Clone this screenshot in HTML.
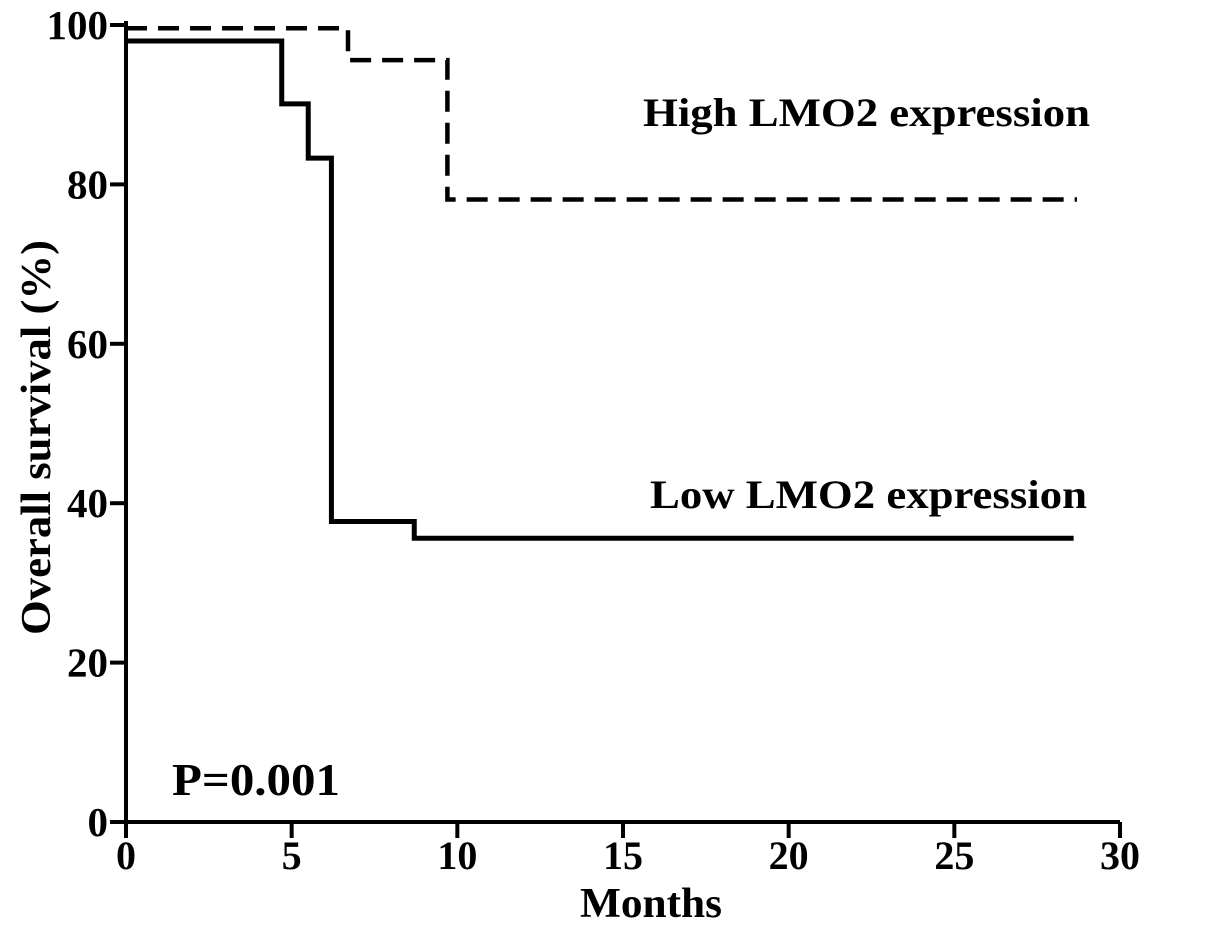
<!DOCTYPE html>
<html><head><meta charset="utf-8"><style>
html,body{margin:0;padding:0;background:#fff;}
svg{display:block;font-family:"Liberation Serif",serif;font-weight:bold;}
</style></head><body>
<svg id="chart" width="1205" height="943">
<g id="axes"></g><g id="series"></g>
<text x="643" y="126" font-size="40" textLength="447" lengthAdjust="spacingAndGlyphs">High LMO2 expression</text>
<text x="650" y="508" font-size="40" textLength="437" lengthAdjust="spacingAndGlyphs">Low LMO2 expression</text>
<text x="172" y="795" font-size="46" textLength="168" lengthAdjust="spacingAndGlyphs">P=0.001</text>
<text x="580" y="917" font-size="42" textLength="142" lengthAdjust="spacingAndGlyphs">Months</text>
<text transform="translate(50,635) rotate(-90)" font-size="42" textLength="395" lengthAdjust="spacingAndGlyphs">Overall survival (%)</text>
</svg>
<script>
const xTicks=[0,5,10,15,20,25,30];
const yTicks=[0,20,40,60,80,100];
const highTimes=[0,6.7,9.7,28.7];
const highSurv=[99.6,95.6,78.1,78.1];
const lowTimes=[0,4.7,5.5,6.2,8.7,28.6];
const lowSurv=[98,90.1,83.3,37.7,35.6,35.6];
const NS="http://www.w3.org/2000/svg";
const X=v=>126+v*(1120-126)/30;
const Y=v=>822-v*(822-25)/100;
function mk(tag,attrs,parent){const e=document.createElementNS(NS,tag);for(const k in attrs)e.setAttribute(k,attrs[k]);parent.appendChild(e);return e;}
const ax=document.getElementById('axes');
let l=mk('line',{x1:X(0),y1:Y(0),x2:X(30),y2:Y(0),stroke:'#000','stroke-width':4},ax);


l=mk('line',{x1:X(0),y1:Y(0)+2,x2:X(0),y2:Y(100)-4,stroke:'#000','stroke-width':4},ax);


xTicks.forEach(t=>{
 const tk=mk('line',{x1:X(t),y1:Y(0),x2:X(t),y2:Y(0)+16,stroke:'#000','stroke-width':4},ax);
 
 
 const tx=mk('text',{x:X(t),y:Y(0)+47,'font-size':40,'text-anchor':'middle'},ax);
 tx.textContent=t;
 
 
});
yTicks.forEach(t=>{
 const tk=mk('line',{x1:X(0)-16,y1:Y(t),x2:X(0),y2:Y(t),stroke:'#000','stroke-width':4},ax);
 
 
 const tx=mk('text',{x:X(0)-18,y:Y(t)+14,'font-size':41,'text-anchor':'end'},ax);
 tx.textContent=t;
 
 
});
function stepPath(ts,ss){let d='M'+X(ts[0])+','+Y(ss[0]);for(let i=1;i<ts.length;i++){d+=' H'+X(ts[i])+' V'+Y(ss[i]);}return d;}
const sg=document.getElementById('series');
let p=mk('path',{d:stepPath(highTimes,highSurv),fill:'none',stroke:'#000','stroke-width':4.5,'stroke-dasharray':'21,11'},sg);


p=mk('path',{d:stepPath(lowTimes,lowSurv),fill:'none',stroke:'#000','stroke-width':5},sg);


</script>
</body></html>
